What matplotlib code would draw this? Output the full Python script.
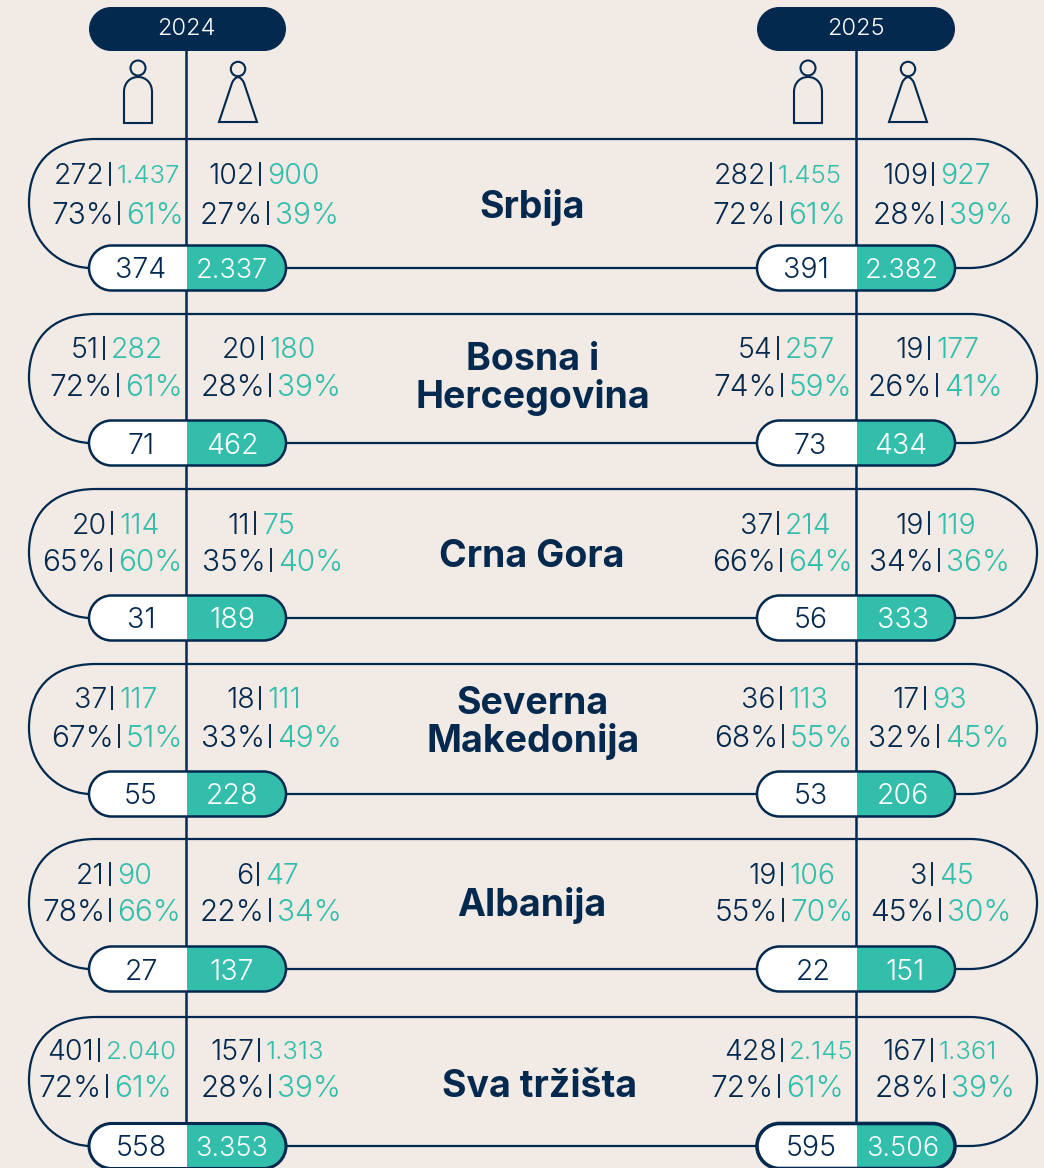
import matplotlib
matplotlib.use('Agg')
import matplotlib.pyplot as plt
from matplotlib.patches import Circle, PathPatch, Rectangle
from matplotlib.path import Path

# data
countries = ['Srbija', 'Bosna i\nHercegovina', 'Crna Gora', 'Severna\nMakedonija', 'Albanija', 'Sva tržišta']
years = ['2024', '2025']

# each group: number of men | women count pairs, percentage pairs, pill totals
left_24 = [('272', '1.437'), ('51', '282'), ('20', '114'), ('37', '117'), ('21', '90'), ('401', '2.040')]
left_pct_24 = [('73%', '61%'), ('72%', '61%'), ('65%', '60%'), ('67%', '51%'), ('78%', '66%'), ('72%', '61%')]
right_24 = [('102', '900'), ('20', '180'), ('11', '75'), ('18', '111'), ('6', '47'), ('157', '1.313')]
right_pct_24 = [('27%', '39%'), ('28%', '39%'), ('35%', '40%'), ('33%', '49%'), ('22%', '34%'), ('28%', '39%')]
left_25 = [('282', '1.455'), ('54', '257'), ('37', '214'), ('36', '113'), ('19', '106'), ('428', '2.145')]
left_pct_25 = [('72%', '61%'), ('74%', '59%'), ('66%', '64%'), ('68%', '55%'), ('55%', '70%'), ('72%', '61%')]
right_25 = [('109', '927'), ('19', '177'), ('19', '119'), ('17', '93'), ('3', '45'), ('167', '1.361')]
right_pct_25 = [('28%', '39%'), ('26%', '41%'), ('34%', '36%'), ('32%', '45%'), ('45%', '30%'), ('28%', '39%')]
total_a_24 = ['374', '71', '31', '55', '27', '558']
total_b_24 = ['2.337', '462', '189', '228', '137', '3.353']
total_a_25 = ['391', '73', '56', '53', '22', '595']
total_b_25 = ['2.382', '434', '333', '206', '151', '3.506']

# layout (pixels)
row_top = [139, 314, 489, 664, 839, 1017]
row_pill = [268, 443, 618, 794, 969, 1146]
row_line1 = [174, 348, 523, 698, 874, 1050]
row_line2 = [213, 385, 560, 736, 910, 1086]
title_x = [532, 533, 532, 533, 532, 540]
title_y = [208, 379, 557, 723, 905, 1087]
bar_l24 = [(110, 119), (104, 118), (112, 111), (112, 119), (110, 110), (99, 107)]
bar_r24 = [(260, 268), (262, 270), (255, 271), (260, 270), (258, 270), (259, 270)]
bar_l25 = [(771, 781), (778, 782), (778, 781), (781, 783), (782, 783), (782, 779)]
bar_r25 = [(933, 942), (929, 937), (929, 939), (925, 938), (932, 940), (932, 944)]
pill_a_x = [[141, 141, 141, 141, 141, 141], [806, 810, 811, 811, 813, 811]]
pill_b_x = [[232, 232, 232, 232, 232, 232], [902, 901, 903, 903, 905, 903]]
axis_x = [186, 856]
pill_x0 = [89, 757]
pill_x1 = [286, 955]

NAVY = '#03294F'
TEAL = '#33BDAB'
BG = '#F1EAE5'
plt.rcParams['font.family'] = ['Inter', 'DejaVu Sans']

fig = plt.figure(figsize=(10.44, 11.68), dpi=100, facecolor=BG)
ax = fig.add_axes([0, 0, 1, 1])
ax.set_xlim(0, 1044)
ax.set_ylim(1168, 0)
ax.axis('off')


def pill_path(x0, x1, yc, h):
    # stadium shape, the boxstyle corners look too square
    k = 0.5523 * h
    v = [(x0 + h, yc - h), (x1 - h, yc - h),
         (x1 - h + k, yc - h), (x1, yc - k), (x1, yc),
         (x1, yc + k), (x1 - h + k, yc + h), (x1 - h, yc + h),
         (x0 + h, yc + h),
         (x0 + h - k, yc + h), (x0, yc + k), (x0, yc),
         (x0, yc - k), (x0 + h - k, yc - h), (x0 + h, yc - h), (x0 + h, yc - h)]
    c = [Path.MOVETO, Path.LINETO] + [Path.CURVE4] * 6 + [Path.LINETO] + [Path.CURVE4] * 6 + [Path.CLOSEPOLY]
    return Path(v, c)


def pill(x0, x1, yc, split, h=22.5, lw=1.8):
    box = PathPatch(pill_path(x0, x1, yc, h), fc='none', ec=NAVY, lw=lw, zorder=5)
    ax.add_patch(box)
    for a, b, c in [(x0, split + 1, 'white'), (split + 1, x1, TEAL)]:
        r = Rectangle((a, yc - h), b - a, 2 * h, fc=c, ec='none', zorder=4)
        ax.add_patch(r)
        r.set_clip_path(box)


def pair(bar_x, y, pair_vals, size):
    # navy number, separator, teal number
    ax.text(bar_x - 5, y, pair_vals[0], color=NAVY, ha='right', va='center_baseline', fontsize=size, fontweight=300)
    ax.plot([bar_x, bar_x], [y - 11, y + 11], color=NAVY, lw=1.4, zorder=3)
    # thousands run too wide in Inter, shrink them a bit so they stay off the axis line
    teal_size = size - 2 if '.' in pair_vals[1] else size
    ax.text(bar_x + 7, y, pair_vals[1], color=TEAL, ha='left', va='center_baseline', fontsize=teal_size, fontweight=300)


def man(cx):
    ax.add_patch(Circle((cx, 68), 7.5, fc='none', ec=NAVY, lw=1.5))
    v = [(cx - 14, 123), (cx - 14, 92), (cx - 14, 83), (cx - 8, 77), (cx, 77), (cx + 8, 77), (cx + 14, 83),
         (cx + 14, 92), (cx + 14, 123), (cx - 14, 123)]
    c = [Path.MOVETO, Path.LINETO, Path.CURVE4, Path.CURVE4, Path.CURVE4, Path.CURVE4, Path.CURVE4, Path.CURVE4,
         Path.LINETO, Path.CLOSEPOLY]
    ax.add_patch(PathPatch(Path(v, c), fc='none', ec=NAVY, lw=1.5))


def woman(cx):
    ax.add_patch(Circle((cx, 69), 7.2, fc='none', ec=NAVY, lw=1.5))
    v = [(cx - 19, 122), (cx - 6, 83), (cx - 4, 78), (cx, 77), (cx + 4, 78), (cx + 6, 83), (cx + 19, 122),
         (cx - 19, 122)]
    c = [Path.MOVETO, Path.LINETO, Path.CURVE3, Path.CURVE3, Path.CURVE3, Path.CURVE3, Path.LINETO, Path.CLOSEPOLY]
    ax.add_patch(PathPatch(Path(v, c), fc='none', ec=NAVY, lw=1.5))


# vertical axes, year pills and icons
for i, x in enumerate(axis_x):
    ax.plot([x, x], [40, 1168], color=NAVY, lw=1.8, zorder=1)
    ax.add_patch(PathPatch(pill_path(pill_x0[i], pill_x1[i], 29, 22), fc=NAVY, ec='none', zorder=5))
    ax.text(x, 29, years[i], color='white', ha='center', va='center', fontsize=17, fontweight=300, zorder=6)
    man(x - 48)
    woman(x + 52)

# rows
for i, name in enumerate(countries):
    top, py = row_top[i], row_pill[i]
    # outline: left arc, top line, right arc
    r = (py - top) / 2
    ym = top + r - 1
    k = 0.55 * r
    v = [(89, py), (89 - 35, py - 2), (29, ym + k), (29, ym), (29, ym - k), (96 - k - 12, top), (96, top),
         (970, top), (970 + k + 4, top), (1037, ym - k), (1037, ym), (1037, ym + k), (970 + k + 4, py), (970, py),
         (955, py)]
    c = [Path.MOVETO] + [Path.CURVE4] * 6 + [Path.LINETO] + [Path.CURVE4] * 6 + [Path.LINETO]
    ax.add_patch(PathPatch(Path(v, c), fc='none', ec=NAVY, lw=1.6, zorder=2))
    ax.plot([286, 757], [py, py], color=NAVY, lw=1.6, zorder=2)

    pill(pill_x0[0], pill_x1[0], py, axis_x[0], lw=1.8 if i < 5 else 2.2)
    pill(pill_x0[1], pill_x1[1], py, axis_x[1], lw=1.8 if i < 5 else 2.6)

    size_b = 19.5 if i in (0, 5) else 20.5
    ax.text(pill_a_x[0][i], py, total_a_24[i], color=NAVY, ha='center', va='center_baseline', fontsize=20.5, fontweight=300, zorder=6)
    ax.text(pill_b_x[0][i], py, total_b_24[i], color='white', ha='center', va='center_baseline', fontsize=size_b, fontweight=300, zorder=6)
    ax.text(pill_a_x[1][i], py, total_a_25[i], color=NAVY, ha='center', va='center_baseline', fontsize=20.5, fontweight=300, zorder=6)
    ax.text(pill_b_x[1][i], py, total_b_25[i], color='white', ha='center', va='center_baseline', fontsize=size_b, fontweight=300, zorder=6)

    pair(bar_l24[i][0], row_line1[i], left_24[i], 20.5)
    pair(bar_l24[i][1], row_line2[i], left_pct_24[i], 21.5)
    pair(bar_r24[i][0], row_line1[i], right_24[i], 20.5)
    pair(bar_r24[i][1], row_line2[i], right_pct_24[i], 21.5)
    pair(bar_l25[i][0], row_line1[i], left_25[i], 20.5)
    pair(bar_l25[i][1], row_line2[i], left_pct_25[i], 21.5)
    pair(bar_r25[i][0], row_line1[i], right_25[i], 20.5)
    pair(bar_r25[i][1], row_line2[i], right_pct_25[i], 21.5)

    ax.text(title_x[i], title_y[i], name, color=NAVY, ha='center', va='center', fontsize=27, fontweight='bold',
            linespacing=1.0)

fig.savefig('out.png', dpi=100, facecolor=BG)
